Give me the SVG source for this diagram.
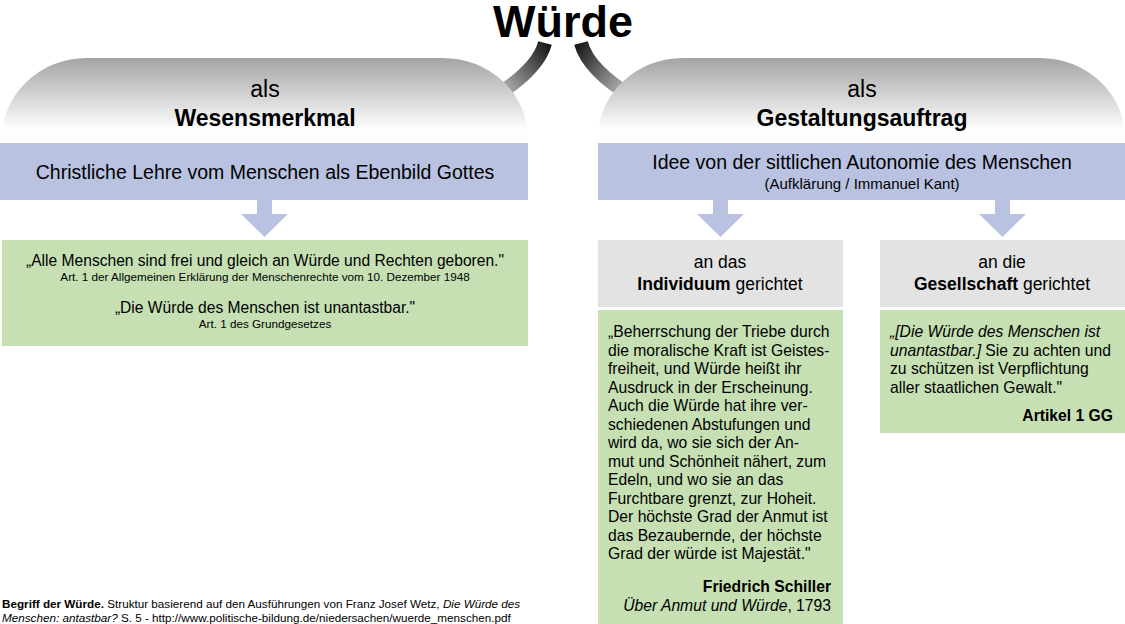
<svg xmlns="http://www.w3.org/2000/svg" width="1125" height="624" viewBox="0 0 1125 624">
<style>
text{font-family:"Liberation Sans",Arial,sans-serif;fill:#000}
.b{font-weight:bold}
.i{font-style:italic}
.blue{fill:#b9c3e1}
.green{fill:#c6e0b4}
.gray{fill:#e3e3e3}
.hdr{fill:url(#hg)}
.c{text-anchor:middle}
.r{text-anchor:end}
</style>
<defs>
<linearGradient id="hg" x1="0" y1="0" x2="0" y2="1">
<stop offset="0" stop-color="#a4a4a4"/>
<stop offset="0.85" stop-color="#ffffff"/>
</linearGradient>
<linearGradient id="cgL" gradientUnits="userSpaceOnUse" x1="552" y1="45" x2="500" y2="85">
<stop offset="0" stop-color="#111"/>
<stop offset="1" stop-color="#b0b0b0"/>
</linearGradient>
<linearGradient id="cgR" gradientUnits="userSpaceOnUse" x1="574" y1="45" x2="626" y2="85">
<stop offset="0" stop-color="#111"/>
<stop offset="1" stop-color="#b0b0b0"/>
</linearGradient>
</defs>
<rect width="1125" height="624" fill="#fff"/>
<g id="connectors">
<path d="M545,43 Q538,70 492,98" fill="none" stroke="url(#cgL)" stroke-width="14"/>
<path d="M581,43 Q588,70 634,98" fill="none" stroke="url(#cgR)" stroke-width="14"/>
<path class="blue" d="M257,200 H272 V214 H288 L264.5,237 L241,214 H257 Z"/>
<path class="blue" d="M713,200 H728 V214 H744 L720.5,237 L697,214 H713 Z"/>
<path class="blue" d="M995,200 H1010 V214 H1026 L1002.5,237 L979,214 H995 Z"/>
</g>
<g id="title">
<text class="b c" x="563" y="37" font-size="45">Würde</text>
</g>
<g id="hdr-left">
<path class="hdr" d="M2,143 V138 A85,80 0 0 1 87,58 H443 A85,80 0 0 1 528,138 V143 Z"/>
<text class="c" x="265" y="97" font-size="23">als</text>
<text class="b c" x="265" y="126" font-size="23">Wesensmerkmal</text>
</g>
<g id="hdr-right">
<path class="hdr" d="M598,143 V138 A85,80 0 0 1 683,58 H1040 A85,80 0 0 1 1125,138 V143 Z"/>
<text class="c" x="862" y="97" font-size="23">als</text>
<text class="b c" x="862" y="126" font-size="23">Gestaltungsauftrag</text>
</g>
<g id="blue-left">
<rect class="blue" x="0" y="143" width="528" height="57"/>
<text class="c" x="265" y="179" font-size="19.5">Christliche Lehre vom Menschen als Ebenbild Gottes</text>
</g>
<g id="blue-right">
<rect class="blue" x="598" y="143" width="527" height="57"/>
<text class="c" x="862" y="169" font-size="19.5">Idee von der sittlichen Autonomie des Menschen</text>
<text class="c" x="862" y="189" font-size="15">(Aufklärung / Immanuel Kant)</text>
</g>
<g id="green-left">
<rect class="green" x="2" y="240" width="526" height="106"/>
<text class="c" x="265" y="266" font-size="15.6">„Alle Menschen sind frei und gleich an Würde und Rechten geboren."</text>
<text class="c" x="265" y="281" font-size="11.7">Art. 1 der Allgemeinen Erklärung der Menschenrechte vom 10. Dezember 1948</text>
<text class="c" x="265" y="313" font-size="15.6">„Die Würde des Menschen ist unantastbar."</text>
<text class="c" x="265" y="328" font-size="11.7">Art. 1 des Grundgesetzes</text>
</g>
<g id="gray-individuum">
<rect class="gray" x="598" y="240" width="245" height="67"/>
<text class="c" x="720" y="268" font-size="17.5">an das</text>
<text class="c" x="720" y="290" font-size="17.5"><tspan class="b">Individuum</tspan> gerichtet</text>
</g>
<g id="gray-gesellschaft">
<rect class="gray" x="880" y="240" width="245" height="67"/>
<text class="c" x="1002" y="268" font-size="17.5">an die</text>
<text class="c" x="1002" y="290" font-size="17.5"><tspan class="b">Gesellschaft</tspan> gerichtet</text>
</g>
<g id="green-schiller" font-size="15.7">
<rect class="green" x="598" y="310" width="245" height="314"/>
<text x="608" y="337">„Beherrschung der Triebe durch</text>
<text x="608" y="355.5">die moralische Kraft ist Geistes-</text>
<text x="608" y="374">freiheit, und Würde heißt ihr</text>
<text x="608" y="392.5">Ausdruck in der Erscheinung.</text>
<text x="608" y="411">Auch die Würde hat ihre ver-</text>
<text x="608" y="429.5">schiedenen Abstufungen und</text>
<text x="608" y="448">wird da, wo sie sich der An-</text>
<text x="608" y="466.5">mut und Schönheit nähert, zum</text>
<text x="608" y="485">Edeln, und wo sie an das</text>
<text x="608" y="503.5">Furchtbare grenzt, zur Hoheit.</text>
<text x="608" y="522">Der höchste Grad der Anmut ist</text>
<text x="608" y="540.5">das Bezaubernde, der höchste</text>
<text x="608" y="559">Grad der würde ist Majestät."</text>
<text class="b r" x="831" y="592">Friedrich Schiller</text>
<text class="r" x="831" y="611"><tspan class="i">Über Anmut und Würde</tspan>, 1793</text>
</g>
<g id="green-gg" font-size="15.7">
<rect class="green" x="880" y="310" width="245" height="123"/>
<text x="890" y="337"><tspan class="i">„[Die Würde des Menschen ist</tspan></text>
<text x="890" y="355.5"><tspan class="i">unantastbar.]</tspan> Sie zu achten und</text>
<text x="890" y="374">zu schützen ist Verpflichtung</text>
<text x="890" y="392.5">aller staatlichen Gewalt."</text>
<text class="b r" x="1113" y="421">Artikel 1 GG</text>
</g>
<g id="caption" font-size="11.7">
<text x="2" y="608"><tspan class="b">Begriff der Würde.</tspan> Struktur basierend auf den Ausführungen von Franz Josef Wetz, <tspan class="i">Die Würde des</tspan></text>
<text x="2" y="622"><tspan class="i">Menschen: antastbar?</tspan> S. 5 - http://www.politische-bildung.de/niedersachen/wuerde_menschen.pdf</text>
</g>
</svg>
